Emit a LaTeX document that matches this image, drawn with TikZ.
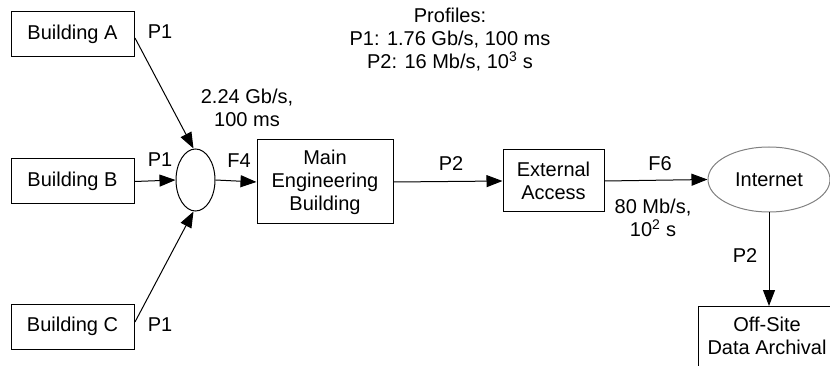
\documentclass[tikz,border=0pt]{standalone}
\usepackage{fontspec}
\setmainfont{Liberation Sans}
\usetikzlibrary{shapes.geometric,arrows.meta}
\begin{document}
\begin{tikzpicture}[x=1pt,y=-1pt,
  every node/.style={font=\fontsize{20}{23}\selectfont},
  box/.style={draw,line width=1pt,inner sep=0pt,align=center},
  lbl/.style={inner sep=0pt,align=center},
  conn/.style={line width=1pt,-{Triangle[length=16pt,width=12pt]}}]
\useasboundingbox (0,0) rectangle (830,366);
\clip (0,0) rectangle (830,366);
\node[box,minimum width=123pt,minimum height=45pt] (A) at (72.5,34.5) {Building A};
\node[box,minimum width=123pt,minimum height=45pt] (B) at (72.5,181.5) {Building B};
\node[box,minimum width=123pt,minimum height=45pt] (C) at (72.5,326.5) {Building C};
\node[draw,line width=1pt,ellipse,minimum width=39pt,minimum height=62pt,inner sep=0pt] (hub) at (195.5,180) {};
\node[box,minimum width=136pt,minimum height=84pt] (M) at (325,182) {Main\\Engineering\\Building};
\node[box,minimum width=101pt,minimum height=62pt] (E) at (553.5,181) {External\\Access};
\node[draw=gray,line width=1pt,ellipse,minimum width=122pt,minimum height=65pt,inner sep=0pt] (I) at (769,179.5) {Internet};
\node[box,minimum width=150pt,minimum height=90pt,anchor=north west] (O) at (698,306) {};
\node[lbl] (Ot) at (767,336) {Off-Site\\Data Archival};
\coordinate (As) at (135,38);
\coordinate (Cs) at (135,322);
\draw[conn] (As) -- ([xshift=-2pt]hub.north);
\draw[conn] (Cs) -- ([xshift=-2pt]hub.south);
\draw[conn] (B.east) -- (hub.west);
\draw[conn] (hub.east) -- (M.west);
\draw[conn] (M.east) -- (E.west);
\draw[conn] (E.east) -- (I.west);
\draw[conn] (I.south) -- (O.north -| I.south);
\node[lbl] (p1a) at (160,32) {P1};
\node[lbl] (p1b) at (160,160) {P1};
\node[lbl] (p1c) at (160,325) {P1};
\node[lbl] (l224) at (247,108) {2.24 Gb/s,\\100 ms};
\node[lbl] (f4) at (239,161) {F4};
\node[lbl] (p2a) at (451,164) {P2};
\node[lbl] (f6) at (660,164) {F6};
\node[lbl] (l80) at (653,218) {80 Mb/s,\\10\textsuperscript{2} s};
\node[lbl] (p2b) at (745,256) {P2};
\node[lbl] (prof) at (450,40) {Profiles:\\P1: 1.76 Gb/s, 100 ms\\P2: 16 Mb/s, 10\textsuperscript{3} s};
\end{tikzpicture}
\end{document}
